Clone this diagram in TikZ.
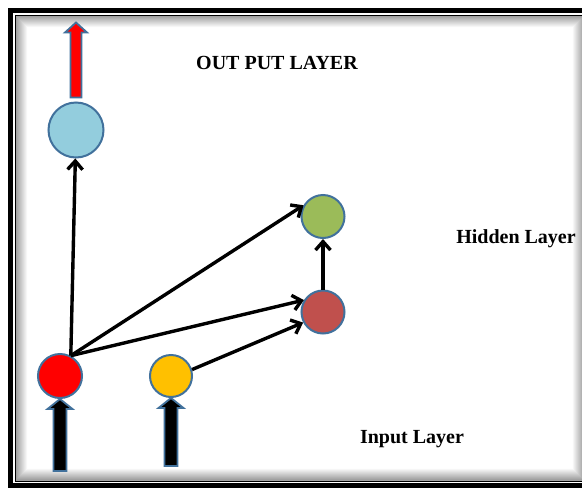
\documentclass[tikz,border=0pt]{standalone}
\usepackage{fontspec}
\setmainfont{Liberation Serif}
\usetikzlibrary{arrows.meta}

\definecolor{rimblue}{HTML}{41719C}
\definecolor{outblue}{HTML}{93CDDD}
\definecolor{hidgreen}{HTML}{9BBB59}
\definecolor{hidbrown}{HTML}{C0504D}
\definecolor{inyellow}{HTML}{FFC000}

\tikzset{
    neuron/.style = {circle, draw = rimblue, line width = 2pt, inner sep = 0pt},
    link/.style = {line width = 3.4pt, -{Straight Barb[length = 8.5pt, width = 15pt]}},
    blockarrow/.style = {draw = rimblue, line width = 1.8pt, line join = miter},
    layername/.style = {font = \fontsize{20}{22}\selectfont\bfseries}
}

\begin{document}
\begin{tikzpicture}[x = 1pt, y = -1pt]

        % Page and its double frame with the soft inner shadow.
        \useasboundingbox (0, 0) rectangle (582, 488);
        \fill[white] (0, 0) rectangle (582, 488);
        \foreach \k in {1, ..., 12}{
            \pgfmathsetmacro{\shade}{40 - 3.3*\k}
            \draw[black!\shade, line width = 1.1pt]
                (15 + 1.05*\k, 15 + 1.05*\k) rectangle (585 - 1.05*\k, 481 - 1.05*\k);
        }
        \draw[line width = 5pt] (10.5, 10.5) rectangle (592, 485.5);
        \draw[line width = 1pt] (15, 15) rectangle (586, 481);

        % The neurons.
        \node[neuron, fill = outblue, minimum size = 55pt] (out) at (76, 130) {};
        \node[neuron, fill = hidgreen, minimum size = 43pt] (h2) at (323, 216.5) {};
        \node[neuron, fill = hidbrown, minimum size = 43pt] (h1) at (323, 312) {};
        \node[neuron, fill = red, minimum size = 44pt] (in1) at (60, 376) {};
        \node[neuron, fill = inyellow, minimum size = 42pt] (in2) at (171, 376) {};

        % Connections between the layers.
        \draw[link] (in1.62) -- (out);
        \draw[link] (in1.62) -- (h2.150);
        \draw[link] (in1.62) -- (h1.148);
        \draw[link] (in2.17) -- (h1.208);
        \draw[link] (h1) -- (h2);

        % Block arrows for the signal going in and coming out.
        \draw[blockarrow, fill = red] ([yshift = 4pt]out.north)
            -- ++(5.5, 0) -- ++(0, -65) -- ++(5.5, 0) -- ++(-11, -10)
            -- ++(-11, 10) -- ++(5.5, 0) -- ++(0, 65) -- cycle;
        \foreach \n/\len in {in1/62, in2/58}{
            \draw[blockarrow, fill = black] (\n.south)
                -- ++(12.5, 10) -- ++(-6, 0) -- ++(0, \len) -- ++(-13, 0)
                -- ++(0, -\len) -- ++(-6, 0) -- cycle;
        }

        % Layer names.
        \node[layername] (outname) at (277, 63) {OUT PUT LAYER};
        \node[layername] (hidname) at (516, 239) {Hidden Layer};
        \node[layername] (inname) at (412, 439) {Input Layer};

    \end{tikzpicture}
\end{document}
